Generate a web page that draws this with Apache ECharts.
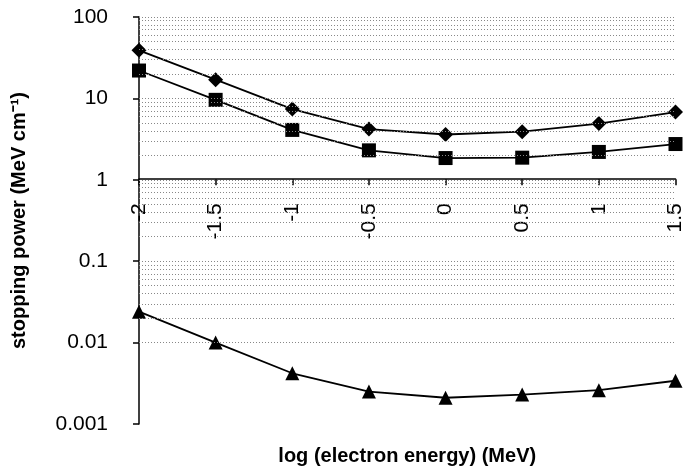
<!DOCTYPE html>
<html>
<head>
<meta charset="utf-8">
<script src="https://cdn.jsdelivr.net/npm/echarts@6/dist/echarts.min.js"></script>
<style>
  html, body { margin: 0; padding: 0; background: #fff; }
  #chart { width: 686px; height: 471px; }
</style>
</head>
<body>
<div id="chart"></div>
<script>
// log of electron energy (MeV)
var logEnergy = [-2, -1.5, -1, -0.5, 0, 0.5, 1, 1.5];
// stopping power (MeV cm-1)
var diamondVals = [39, 17, 7.4, 4.2, 3.6, 3.9, 4.9, 6.8];
var squareVals = [22, 9.6, 4.1, 2.3, 1.85, 1.87, 2.2, 2.75];
var triangleVals = [0.024, 0.01, 0.0042, 0.0025, 0.0021, 0.0023, 0.0026, 0.0034];
var decades = [0.001, 0.01, 0.1, 1, 10];
var steps = [1, 2, 3, 4, 5, 6, 7, 8, 9];

var gridVals = [];
decades.forEach(function (d) {
  steps.forEach(function (s) {
    if (d * s > 0.001) gridVals.push(+(d * s).toPrecision(3));
  });
});
gridVals.push(100);

function pairs(vals) {
  return logEnergy.map(function (x, i) { return [x, vals[i]]; });
}

var chart = echarts.init(document.getElementById('chart'));
var font = 'Liberation Sans, Arial, sans-serif';
var lineStyle = { color: '#000', width: 1.8 };

var option = {
  backgroundColor: '#fff',
  animation: false,
  grid: { left: 139, right: 6, top: 17, bottom: 46 },
  xAxis: [
    {
      type: 'value', min: -2, max: 1.5, interval: 0.5,
      axisLine: { show: false }, axisTick: { show: false },
      axisLabel: { show: false }, splitLine: { show: false },
      name: 'log (electron energy) (MeV)',
      nameLocation: 'middle', nameGap: 22,
      nameTextStyle: { fontFamily: font, fontWeight: 'bold', fontSize: 20, color: '#000' }
    },
    {
      type: 'value', min: -2, max: 1.5, interval: 0.5,
      position: 'bottom', offset: -244.8,
      axisLine: { show: true, lineStyle: { color: '#000', width: 1.5 } },
      axisTick: { show: true, length: 6, lineStyle: { color: '#000', width: 1.5 } },
      axisLabel: { rotate: 90, margin: 24, fontFamily: font, fontSize: 21, color: '#000' },
      splitLine: { show: false }
    }
  ],
  yAxis: {
    type: 'log', logBase: 10, min: 0.001, max: 100,
    axisLine: { show: true, onZero: false, lineStyle: { color: '#000', width: 1.5 } },
    axisTick: { show: true, length: 6, lineStyle: { color: '#000', width: 1.5 } },
    axisLabel: {
      margin: 31, fontFamily: font, fontSize: 21, color: '#000',
      formatter: function (v) { return String(+(+v).toPrecision(3)); }
    },
    splitLine: { show: false },
    name: 'stopping power (MeV cm⁻¹)',
    nameLocation: 'middle', nameGap: 110,
    nameTextStyle: { fontFamily: font, fontWeight: 'bold', fontSize: 20, color: '#000' }
  },
  series: [
    {
      type: 'line', data: [], silent: true,
      markLine: {
        silent: true, symbol: 'none', label: { show: false },
        lineStyle: { color: '#888', type: [1, 2], width: 1 },
        data: gridVals.map(function (v) { return { yAxis: v }; })
      }
    },
    {
      name: 'diamond', type: 'line', data: pairs(diamondVals),
      symbol: 'diamond', symbolSize: 15, lineStyle: lineStyle,
      itemStyle: { color: '#000' }
    },
    {
      name: 'square', type: 'line', data: pairs(squareVals),
      symbol: 'rect', symbolSize: 14, lineStyle: lineStyle,
      itemStyle: { color: '#000' }
    },
    {
      name: 'triangle', type: 'line', data: pairs(triangleVals),
      symbol: 'triangle', symbolSize: 14, lineStyle: lineStyle,
      itemStyle: { color: '#000' }
    }
  ]
};
chart.setOption(option);
</script>
</body>
</html>
